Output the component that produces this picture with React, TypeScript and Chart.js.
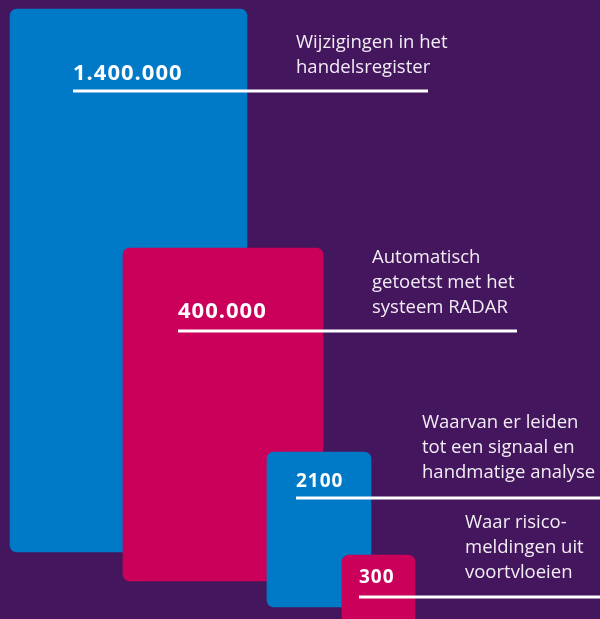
import { useEffect, useRef } from "react";
import { Chart, registerables } from "chart.js";

Chart.register(...registerables);

// ---- Data ----
const categories = [
  "Wijzigingen in het handelsregister",
  "Automatisch getoetst met het systeem RADAR",
  "Waarvan er leiden tot een signaal en handmatige analyse",
  "Waar risicomeldingen uit voortvloeien",
];
const values = [1400000, 400000, 2100, 300];
const valueLabels = ["1.400.000", "400.000", "2100", "300"];
const descriptionLines = [
  ["Wijzigingen in het", "handelsregister"],
  ["Automatisch", "getoetst met het", "systeem RADAR"],
  ["Waarvan er leiden", "tot een signaal en", "handmatige analyse"],
  ["Waar risico-", "meldingen uit", "voortvloeien"],
];

// ---- Layout (infographic grid units, 600 x 619) ----
const GRID_W = 600;
const GRID_H = 619;
const boxLeft = [10, 123, 267, 342];
const boxRight = [247, 323, 371, 415];
const boxTop = [9, 248, 452, 555];
const boxBottom = [552, 581, 607, 640];
const ruleStart = [73, 178, 296, 359];
const ruleEnd = [428, 517, 600, 600];
const ruleY = [91, 331, 498, 597];
const valueBaseline = [80, 318, 487, 583];
const valueFontSize = [22, 22, 19, 19];
const descX = [296, 372, 422, 465];
const descY = [48, 263, 428, 528];
const descLineHeight = 25;

// ---- Styles ----
const BG = "#44165d";
const BLUE = "#0079c7";
const MAGENTA = "#ca005a";
const boxColors = [BLUE, MAGENTA, BLUE, MAGENTA];
const TEXT = "#f2edf5";

export default function App() {
  const canvasRef = useRef<HTMLCanvasElement | null>(null);

  useEffect(() => {
    document.body.style.margin = "0";
    document.body.style.background = BG;
    const canvas = canvasRef.current;
    if (!canvas) return;

    const barDatasets = values.map((v, i) => ({
      type: "bar" as const,
      label: categories[i],
      data: [{ x: (boxLeft[i] + boxRight[i]) / 2, y: [boxTop[i], boxBottom[i]] }],
      backgroundColor: boxColors[i],
      borderWidth: 0,
      borderRadius: 7,
      borderSkipped: false,
      barThickness: boxRight[i] - boxLeft[i],
      grouped: false,
      order: values.length - i,
    }));

    const lineDatasets = values.map((v, i) => ({
      type: "line" as const,
      label: categories[i] + " rule",
      data: [
        { x: ruleStart[i], y: ruleY[i] },
        { x: ruleEnd[i], y: ruleY[i] },
      ],
      borderColor: "#ffffff",
      borderWidth: 3,
      pointRadius: 0,
      fill: false,
      order: 0,
    }));

    const textPlugin = {
      id: "infoText",
      beforeDraw(chart: any) {
        const { ctx } = chart;
        ctx.save();
        ctx.fillStyle = BG;
        ctx.fillRect(0, 0, chart.width, chart.height);
        ctx.restore();
      },
      afterDatasetsDraw(chart: any) {
        const { ctx } = chart;
        const xs = chart.scales.x;
        const ys = chart.scales.y;
        ctx.save();
        ctx.textAlign = "left";
        ctx.textBaseline = "alphabetic";
        ctx.fillStyle = "#ffffff";
        valueLabels.forEach((lab, i) => {
          ctx.font = `700 ${valueFontSize[i]}px "Open Sans"`;
          (ctx as any).letterSpacing = "1px";
          ctx.fillText(lab, xs.getPixelForValue(ruleStart[i]), ys.getPixelForValue(valueBaseline[i]));
        });
        (ctx as any).letterSpacing = "0px";
        ctx.fillStyle = TEXT;
        ctx.font = `400 18.5px "Open Sans"`;
        descriptionLines.forEach((lines, i) => {
          lines.forEach((line, j) => {
            ctx.fillText(
              line,
              xs.getPixelForValue(descX[i]),
              ys.getPixelForValue(descY[i] + j * descLineHeight)
            );
          });
        });
        ctx.restore();
      },
    };

    const chart = new Chart(canvas, {
      type: "bar",
      data: { datasets: [...barDatasets, ...lineDatasets] as any },
      options: {
        animation: false,
        responsive: false,
        events: [],
        layout: { padding: 0 },
        plugins: { legend: { display: false }, tooltip: { enabled: false } },
        scales: {
          x: { type: "linear", min: 0, max: GRID_W, display: false, offset: false },
          y: { type: "linear", min: 0, max: GRID_H, reverse: true, display: false },
        },
      } as any,
      plugins: [textPlugin],
    });
    return () => chart.destroy();
  }, []);

  return (
    <div style={{ width: GRID_W, height: GRID_H, background: BG }}>
      <canvas ref={canvasRef} width={GRID_W} height={GRID_H} />
    </div>
  );
}
